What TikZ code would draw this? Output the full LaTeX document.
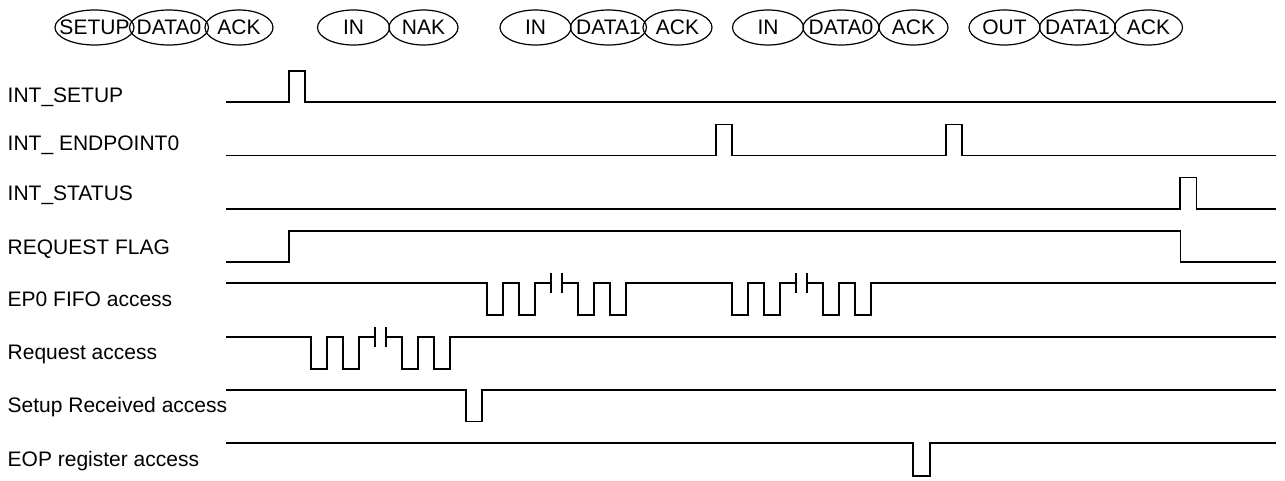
\documentclass[tikz,border=0pt]{standalone}
\usepackage{fontspec}
\setmainfont{Liberation Sans}
\usepackage{tikz}
\usetikzlibrary{shapes.geometric}

\begin{document}
\begin{tikzpicture}[x=1pt, y=-1pt,
  sig/.style={line width=1.9pt},
  lbl/.style={anchor=base west, inner sep=0pt, font=\fontsize{21}{25}\selectfont},
  pkt/.style={ellipse, draw, line width=1.2pt, inner sep=0pt, minimum height=35pt, font=\fontsize{21}{25}\selectfont}]
  \useasboundingbox (0,0) rectangle (1285,480);

  % packets on the bus
  \node[pkt, minimum width=79pt] (setupA) at (94.5,27.5) {\makebox[0pt]{SETUP}};
  \node[pkt, minimum width=79pt] (dataA) at (169,27.5) {\makebox[0pt]{DATA0}};
  \node[pkt, minimum width=68pt] (ackA) at (239,27.5) {\makebox[0pt]{ACK}};
  \node[pkt, minimum width=72pt] (inB) at (353.5,27.5) {\makebox[0pt]{IN}};
  \node[pkt, minimum width=69pt] (nakB) at (423.5,27.5) {\makebox[0pt]{NAK}};
  \node[pkt, minimum width=71pt] (inC) at (535.5,27.5) {\makebox[0pt]{IN}};
  \node[pkt, minimum width=76pt] (dataC) at (608.5,27.5) {\makebox[0pt]{DATA1}};
  \node[pkt, minimum width=69pt] (ackC) at (677.5,27.5) {\makebox[0pt]{ACK}};
  \node[pkt, minimum width=71pt] (inD) at (768,27.5) {\makebox[0pt]{IN}};
  \node[pkt, minimum width=76pt] (dataD) at (841,27.5) {\makebox[0pt]{DATA0}};
  \node[pkt, minimum width=69pt] (ackD) at (913.5,27.5) {\makebox[0pt]{ACK}};
  \node[pkt, minimum width=71pt] (outE) at (1004.5,27.5) {\makebox[0pt]{OUT}};
  \node[pkt, minimum width=76pt] (dataE) at (1077.5,27.5) {\makebox[0pt]{DATA1}};
  \node[pkt, minimum width=68pt] (ackE) at (1148.5,27.5) {\makebox[0pt]{ACK}};

  % signal names
  \node[lbl] (lIntSetup) at (7.5,102.5) {INT\_SETUP};
  \node[lbl] (lIntEp) at (7.5,150) {INT\_ ENDPOINT0};
  \node[lbl] (lIntStatus) at (7.5,200) {INT\_STATUS};
  \node[lbl] (lReqFlag) at (7.5,254.5) {REQUEST FLAG};
  \node[lbl] (lFifo) at (7.5,306) {EP0 FIFO access};
  \node[lbl] (lReq) at (7.5,359.3) {Request access};
  \node[lbl] (lSetupRx) at (7.5,412) {Setup Received access};
  \node[lbl] (lEop) at (7.5,466) {EOP register access};

  % INT_SETUP
  \draw[sig] (226,102.3) -- (289,102.3) -- ++(0,-31) -- ++(16,0) -- ++(0,31) -- (1276,102.3);
  % INT_ ENDPOINT0
  \draw[sig] (226,155.5) -- (716,155.5) -- ++(0,-31) -- ++(16.3,0) -- ++(0,31)
    -- (946,155.5) -- ++(0,-31) -- ++(16.3,0) -- ++(0,31) -- (1276,155.5);
  % INT_STATUS
  \draw[sig] (226,209) -- (1180,209) -- ++(0,-31.5) -- ++(16.5,0) -- ++(0,31.5) -- (1276,209);
  % REQUEST FLAG
  \draw[sig] (226,262.3) -- (289.3,262.3) -- ++(0,-31.5) -- (1180.5,230.8) -- ++(0,31.5) -- (1276,262.3);

  % EP0 FIFO access
  \draw[sig] (226,283.3) -- (486.7,283.3)
    -- ++(0,31.5) -- ++(16,0) -- ++(0,-31.5) -- ++(16,0) -- ++(0,31.5) -- ++(16,0) -- ++(0,-31.5) -- ++(16,0)
    ++(0,-10) -- ++(0,20) ++(11,-20) -- ++(0,20) ++(0,-10)
    -- ++(16,0) -- ++(0,31.5) -- ++(16,0) -- ++(0,-31.5) -- ++(16,0) -- ++(0,31.5) -- ++(16,0) -- ++(0,-31.5)
    -- (731.7,283.3)
    -- ++(0,31.5) -- ++(16,0) -- ++(0,-31.5) -- ++(16,0) -- ++(0,31.5) -- ++(16,0) -- ++(0,-31.5) -- ++(16,0)
    ++(0,-10) -- ++(0,20) ++(11,-20) -- ++(0,20) ++(0,-10)
    -- ++(16,0) -- ++(0,31.5) -- ++(16,0) -- ++(0,-31.5) -- ++(16,0) -- ++(0,31.5) -- ++(16,0) -- ++(0,-31.5)
    -- (1276,283.3);

  % Request access
  \draw[sig] (226,337.3) -- (310.7,337.3)
    -- ++(0,31.5) -- ++(16,0) -- ++(0,-31.5) -- ++(16,0) -- ++(0,31.5) -- ++(16,0) -- ++(0,-31.5) -- ++(16,0)
    ++(0,-10) -- ++(0,20) ++(11,-20) -- ++(0,20) ++(0,-10)
    -- ++(16,0) -- ++(0,31.5) -- ++(16,0) -- ++(0,-31.5) -- ++(16,0) -- ++(0,31.5) -- ++(16,0) -- ++(0,-31.5)
    -- (1276,337.3);

  % Setup Received access
  \draw[sig] (226,390) -- (465.7,390) -- ++(0,31.5) -- ++(16,0) -- ++(0,-31.5) -- (1276,390);
  % EOP register access
  \draw[sig] (226,443.3) -- (913.3,443.3) -- ++(0,32.5) -- ++(16.7,0) -- ++(0,-32.5) -- (1276,443.3);
\end{tikzpicture}
\end{document}
